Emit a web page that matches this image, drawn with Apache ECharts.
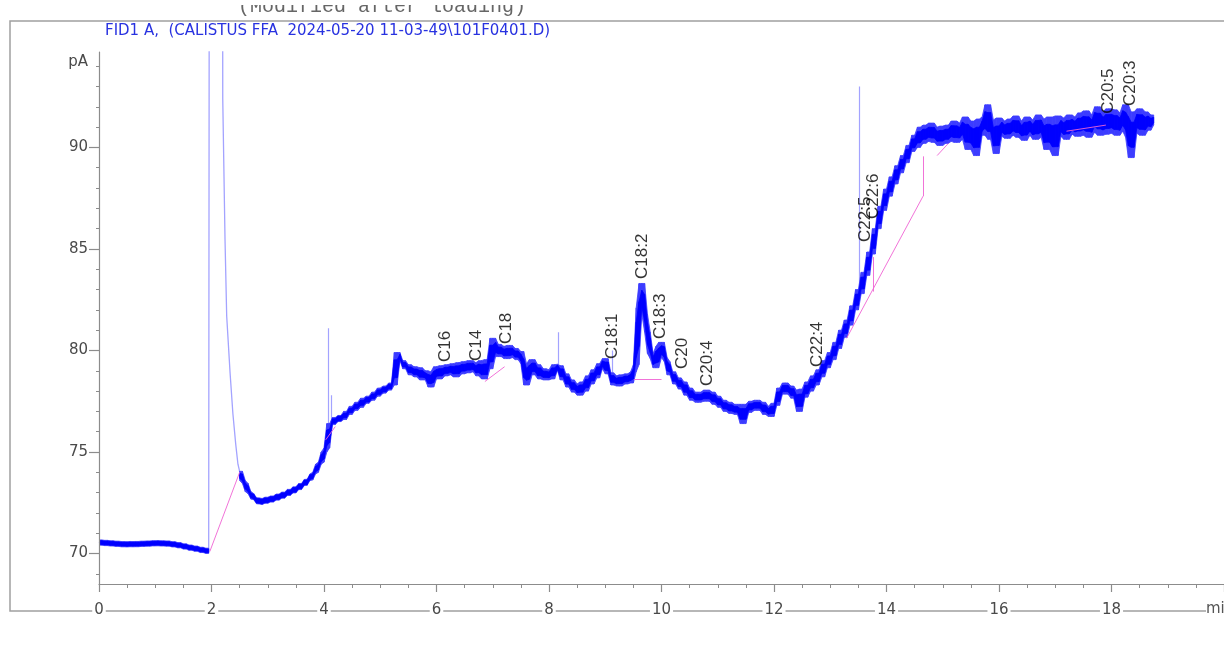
<!DOCTYPE html>
<html>
<head>
<meta charset="utf-8">
<title>FID1 A chromatogram</title>
<script src="https://cdn.jsdelivr.net/npm/echarts@6/dist/echarts.min.js"></script>
<style>
  html, body { margin: 0; padding: 0; background: #fff; }
  #chart { width: 1224px; height: 661px; }
</style>
</head>
<body>
<div id="chart"></div>
<script>
// FID signal (pA) before injection, sampled every 0.05 min from 0 min
const leadStart = 0, leadStep = 0.05;
const leadSignal = [
  70.58, 70.50, 70.56, 70.48, 70.54, 70.46, 70.52, 70.44, 70.50, 70.42,
  70.49, 70.43, 70.50, 70.42, 70.51, 70.44, 70.52, 70.45, 70.53, 70.46,
  70.55, 70.47, 70.54, 70.46, 70.53, 70.45, 70.50, 70.41, 70.46, 70.36,
  70.40, 70.30, 70.33, 70.25, 70.28, 70.20, 70.22, 70.14, 70.17, 70.10
];

// solvent front: [min, pA]; values above the axis are off scale
const solventFront = [
  [1.95, 70.10], [1.97, 130], [2.19, 130], [2.20, 92.4], [2.24, 85.5],
  [2.27, 81.7], [2.33, 78.9], [2.38, 76.9], [2.43, 75.4], [2.47, 74.4], [2.50, 74.05]
];

// FID signal (pA) after the solvent front, sampled every 0.05 min from 2.5 min
const mainStart = 2.5, mainStep = 0.05;
const mainSignal = [
  74.05, 73.60, 73.45, 73.05, 72.95, 72.68, 72.66, 72.52, 72.60, 72.55,
  72.70, 72.62, 72.75, 72.70, 72.86, 72.80, 72.95, 72.92, 73.10, 73.05,
  73.22, 73.20, 73.40, 73.40, 73.60, 73.62, 73.92, 74.00, 74.40, 74.50,
  75.00, 75.20, 76.40, 76.35, 76.70, 76.50, 76.80, 76.60, 77.00, 76.85,
  77.25, 77.05, 77.45, 77.20, 77.65, 77.40, 77.75, 77.55, 77.95, 77.75,
  78.15, 77.90, 78.25, 78.05, 78.40, 78.30, 79.90, 79.50, 79.50, 79.10,
  79.30, 78.80, 79.20, 78.70, 79.15, 78.55, 79.00, 78.60, 78.20, 78.95,
  79.20, 78.60, 79.25, 78.75, 79.30, 78.80, 79.35, 78.70, 79.40, 78.85,
  79.45, 78.90, 79.50, 78.95, 79.40, 78.75, 79.50, 78.60, 79.55, 79.10,
  80.60, 79.70, 80.30, 79.70, 80.20, 79.60, 80.25, 79.65, 80.10, 79.55,
  79.95, 79.35, 78.30, 79.10, 79.55, 78.80, 79.30, 78.60, 79.10, 78.55,
  79.05, 78.60, 79.30, 79.05, 79.25, 78.55, 78.85, 78.20, 78.55, 77.95,
  78.35, 77.80, 78.45, 78.00, 78.75, 78.35, 79.05, 78.65, 79.35, 79.10,
  79.60, 78.85, 78.90, 78.30, 78.75, 78.25, 78.80, 78.35, 78.85, 78.40,
  78.95, 79.30, 82.10, 83.30, 81.80, 80.90, 79.85, 79.60, 79.15, 80.20,
  80.40, 79.65, 79.45, 78.80, 78.95, 78.35, 78.65, 78.10, 78.45, 77.80,
  78.15, 77.55, 77.95, 77.45, 77.95, 77.50, 78.05, 77.50, 77.95, 77.35,
  77.75, 77.20, 77.55, 77.00, 77.45, 76.90, 77.35, 76.85, 77.35, 76.40,
  77.35, 76.95, 77.50, 77.05, 77.55, 77.05, 77.45, 76.85, 77.25, 76.75,
  77.40, 77.30, 78.15, 77.85, 78.40, 77.85, 78.25, 77.65, 78.05, 77.00,
  78.10, 77.70, 78.45, 78.00, 78.75, 78.30, 79.05, 78.70, 79.50, 79.15,
  79.90, 79.55, 80.40, 80.10, 81.00, 80.65, 81.50, 81.25, 82.20, 82.00,
  83.00, 82.80, 83.85, 83.70, 84.85, 84.75, 86.00, 86.00, 87.10, 86.90,
  87.95, 87.60, 88.55, 88.20, 89.10, 88.75, 89.60, 89.25, 90.10, 89.80,
  90.60, 90.00, 91.00, 90.20, 91.10, 90.30, 91.20, 90.25, 91.00, 90.10,
  91.05, 90.20, 91.10, 90.30, 91.30, 90.25, 91.20, 90.40, 91.50, 89.90,
  91.30, 90.50, 89.60, 91.40, 90.60, 91.50, 92.10, 90.40, 91.35, 89.70,
  91.45, 90.55, 91.30, 90.45, 91.40, 90.60, 91.55, 90.50, 91.30, 90.35,
  91.50, 90.60, 91.35, 90.40, 91.60, 90.50, 91.40, 89.90, 91.50, 90.60,
  89.60, 91.55, 90.55, 91.45, 90.40, 91.60, 90.65, 91.50, 90.55, 91.70,
  90.60, 91.80, 90.50, 91.60, 90.75, 92.00, 90.60, 91.75, 90.65, 91.90,
  90.70, 91.85, 90.60, 91.70, 90.80, 92.10, 90.50, 89.50, 91.75, 90.70,
  91.90, 90.60, 91.75, 90.85, 91.60, 91.10
];

// narrow spikes: [min, pA at foot, pA at tip]
const spikes = [
  [4.07, 75.3, 81.1],
  [4.13, 76.5, 77.8],
  [8.17, 79.2, 80.9],
  [9.13, 78.7, 80.0],
  [13.52, 82.8, 93.0]
];

// integration baselines: [[min, pA], [min, pA]]
const integrationBaselines = [
  [[1.97, 70.1], [2.50, 74.0]],
  [[4.03, 75.6], [4.20, 76.25]],
  [[6.86, 78.47], [7.21, 79.2]],
  [[9.51, 78.57], [10.00, 78.57]],
  [[13.29, 80.6], [14.65, 87.6]],
  [[14.65, 87.6], [14.65, 89.56]],
  [[13.76, 82.9], [13.76, 84.6]],
  [[14.90, 89.6], [15.10, 90.2]],
  [[17.20, 90.8], [17.90, 91.1]]
];

// peak names, retention times (min) and the level (pA) where each name starts
const peakNames = ['C16', 'C14', 'C18', 'C18:1', 'C18:2', 'C18:3', 'C20', 'C20:4',
                   'C22:4', 'C22:5', 'C22:6', 'C20:5', 'C20:3'];
const peakTimes = [6.17, 6.72, 7.25, 9.14, 9.67, 9.99, 10.37, 10.83,
                   12.77, 13.64, 13.78, 17.96, 18.35];
const peakLabelLevels = [79.41, 79.46, 80.30, 79.56, 83.50, 80.54, 79.06, 78.23,
                         79.16, 85.32, 86.45, 91.63, 92.02];

// axis ticks
const yMajorTicks = [70, 75, 80, 85, 90];
const yMinorTicks = [69, 71, 72, 73, 74, 76, 77, 78, 79, 81, 82, 83, 84, 86, 87, 88, 89, 91, 92, 93, 94];
const yUnitLevel = 94.2;

const toPairs = (start, step, values) => values.map((v, i) => [+(start + i * step).toFixed(3), v]);
const leadData = toPairs(leadStart, leadStep, leadSignal);
const mainData = toPairs(mainStart, mainStep, mainSignal);

// band over the noisy trace: middle of each sample's neighbourhood, widened by
// part of the local spread; records join one sample to the next:
// [t0, lo0, hi0, t1, lo1, hi1]
function noiseBand(pairs, share, minHalf) {
  const env = pairs.map((p, i) => {
    const win = pairs.slice(Math.max(0, i - 1), i + 2).map(q => q[1]);
    const lo = Math.min(...win), hi = Math.max(...win);
    const mid = (lo + hi) / 2, half = Math.max((hi - lo) / 2 * share, minHalf);
    return [p[0], mid - half, mid + half];
  });
  return env.slice(0, -1).map((e, i) => e.concat(env[i + 1]));
}

const axisGrey = '#8c8c8c';
const traceBlue = '#0000ff';
const fringeBlue = '#3c3cff';
const hairBlue = '#5a5aff';
const spikeBlue = '#a3a3ff';
const baselinePink = '#f064d4';
const axisFont = 'DejaVu Sans';

function bandSeries(pairs, share, minHalf, color, z) {
  return {
    type: 'custom', coordinateSystem: 'cartesian2d', clip: true, z: z, silent: true,
    data: noiseBand(pairs, share, minHalf),
    encode: { x: [0, 3], y: [1, 2, 4, 5] },
    renderItem: (params, api) => {
      const a = api.coord([api.value(0), api.value(1)]);
      const b = api.coord([api.value(0), api.value(2)]);
      const c = api.coord([api.value(3), api.value(5)]);
      const d = api.coord([api.value(3), api.value(4)]);
      return {
        type: 'polygon',
        shape: { points: [a, b, c, d] },
        style: { fill: color, stroke: color, lineWidth: 0.8 }
      };
    }
  };
}

const chart = echarts.init(document.getElementById('chart'), null, { renderer: 'canvas' });

chart.setOption({
  animation: false,
  backgroundColor: '#ffffff',
  grid: { left: 99, top: 52, width: 1130, height: 532, containLabel: false },
  graphic: [
    {
      type: 'rect', z: -5, silent: true,
      shape: { x: 10, y: 21, width: 1240, height: 590 },
      style: { fill: 'none', stroke: '#a0a0a0', lineWidth: 1.5 }
    },
    {
      type: 'text', z: 1, silent: true, x: 238, y: -3,
      style: { text: '(Modified after loading)', font: '20px "Liberation Mono"', fill: '#666' }
    },
    {
      type: 'rect', z: 50, silent: true, x: 0, y: 0,
      shape: { x: 200, y: 0, width: 400, height: 5 },
      style: { fill: '#ffffff', stroke: 'none' }
    },
    {
      type: 'text', z: 10, silent: true, x: 105, y: 24,
      style: {
        text: 'FID1 A,  (CALISTUS FFA  2024-05-20 11-03-49\\101F0401.D)',
        font: '15px "DejaVu Sans"', fill: '#2832e0'
      }
    },
    {
      type: 'text', z: 10, silent: true, x: 1206, y: 602,
      style: { text: 'min', font: '15px "DejaVu Sans"', fill: '#555', backgroundColor: '#fff' }
    }
  ],
  xAxis: {
    type: 'value', min: 0, max: 20, interval: 2, z: 5,
    axisLine: { show: true, onZero: false, lineStyle: { color: axisGrey, width: 1.2 } },
    axisTick: { show: true, length: 8, lineStyle: { color: axisGrey, width: 1.2 } },
    minorTick: { show: true, splitNumber: 4, length: 4, lineStyle: { color: axisGrey, width: 1 } },
    splitLine: { show: false },
    axisLabel: {
      show: true, margin: 19, color: '#4a4a4a', fontFamily: axisFont, fontSize: 15,
      backgroundColor: '#fff', padding: [0, 2],
      showMaxLabel: false,
      formatter: v => (v >= 20 ? '' : String(v))
    }
  },
  yAxis: [
    {
      type: 'value', min: 68.5, max: 94.7, position: 'left', z: 5,
      axisLine: { show: true, onZero: false, lineStyle: { color: axisGrey, width: 1.2 } },
      axisTick: { show: true, length: 10, customValues: yMajorTicks, lineStyle: { color: axisGrey, width: 1.2 } },
      splitLine: { show: false },
      axisLabel: {
        show: true, margin: 11, color: '#4a4a4a', fontFamily: axisFont, fontSize: 15,
        customValues: yMajorTicks.concat([yUnitLevel]),
        formatter: v => (v > 93 ? 'pA' : String(v))
      }
    },
    {
      type: 'value', min: 68.5, max: 94.7, position: 'left', offset: 0,
      axisLine: { show: false },
      axisTick: { show: true, length: 3, customValues: yMinorTicks, lineStyle: { color: axisGrey, width: 1 } },
      axisLabel: { show: false },
      splitLine: { show: false }
    }
  ],
  series: [
    {
      type: 'line', name: 'solvent', data: solventFront, showSymbol: false, clip: true,
      lineStyle: { color: spikeBlue, width: 1.3 }, z: 2
    },
    {
      type: 'lines', name: 'spikes', coordinateSystem: 'cartesian2d', z: 2,
      data: spikes.map(s => ({ coords: [[s[0], s[1]], [s[0], s[2]]] })),
      lineStyle: { color: spikeBlue, width: 1.2, opacity: 1 }
    },
    {
      type: 'line', name: 'lead', data: leadData, showSymbol: false, clip: true,
      lineStyle: { color: hairBlue, width: 1.2 }, z: 2
    },
    {
      type: 'line', name: 'signal', data: mainData, showSymbol: false, clip: true,
      lineStyle: { color: hairBlue, width: 1.1 }, z: 2
    },
    bandSeries(leadData, 1.0, 0.13, fringeBlue, 3),
    bandSeries(mainData, 1.0, 0.15, fringeBlue, 3),
    bandSeries(leadData, 0.7, 0.09, traceBlue, 3),
    bandSeries(mainData, 0.55, 0.11, traceBlue, 3),
    {
      type: 'lines', name: 'baselines', coordinateSystem: 'cartesian2d', z: 4,
      data: integrationBaselines.map(c => ({ coords: c })),
      lineStyle: { color: baselinePink, width: 1, opacity: 0.9 }
    },
    {
      type: 'scatter', name: 'peaks', z: 6, symbolSize: 1,
      itemStyle: { color: 'rgba(0,0,0,0)' },
      data: peakNames.map((n, i) => ({ name: n, value: [peakTimes[i], peakLabelLevels[i]] })),
      label: {
        show: true, formatter: '{b}', position: [0, 0], rotate: 90,
        align: 'left', verticalAlign: 'middle',
        color: '#000', fontFamily: 'Liberation Sans', fontSize: 17
      }
    }
  ]
});
</script>
</body>
</html>
